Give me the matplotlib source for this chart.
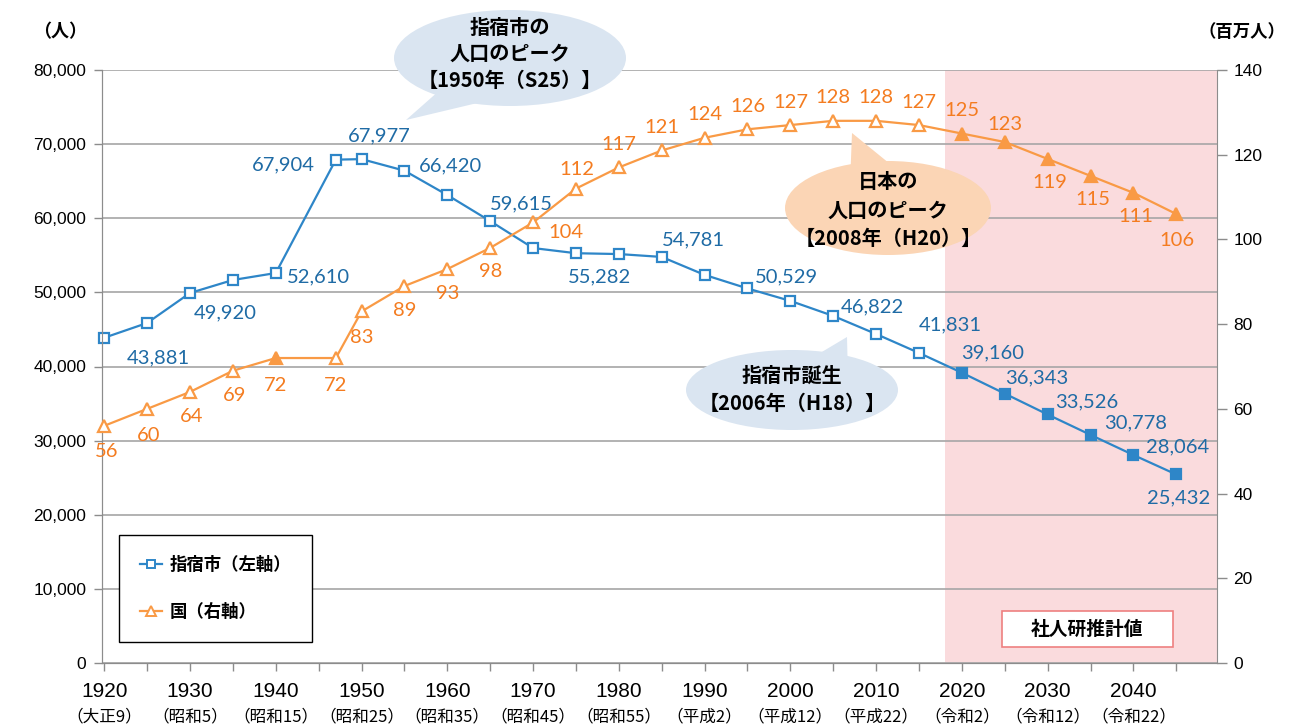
import matplotlib
matplotlib.use("Agg")
import matplotlib.pyplot as plt
from matplotlib.lines import Line2D
from matplotlib.patches import Ellipse, Polygon, Rectangle

# ---- data ----
years = [1920, 1925, 1930, 1935, 1940, 1947, 1950, 1955, 1960, 1965, 1970, 1975, 1980,
         1985, 1990, 1995, 2000, 2005, 2010, 2015, 2020, 2025, 2030, 2035, 2040, 2045]
city_pop = [43881, 45870, 49920, 51670, 52610, 67904, 67977, 66420, 63130, 59615, 55980, 55282, 55170,
            54781, 52360, 50529, 48850, 46822, 44380, 41831, 39160, 36343, 33526, 30778, 28064, 25432]
japan_pop = [56, 60, 64, 69, 72, 72, 83, 89, 93, 98, 104, 112, 117,
             121, 124, 126, 127, 128, 128, 127, 125, 123, 119, 115, 111, 106]
city_labeled = [1920, 1930, 1940, 1947, 1950, 1955, 1965, 1975, 1985, 1995, 2005, 2015,
                2020, 2025, 2030, 2035, 2040, 2045]
projection_start = 2020
axis_years = [1920, 1930, 1940, 1950, 1960, 1970, 1980, 1990, 2000, 2010, 2020, 2030, 2040]
era_labels = ["（大正9）", "（昭和5）", "（昭和15）", "（昭和25）", "（昭和35）", "（昭和45）", "（昭和55）",
              "（平成2）", "（平成12）", "（平成22）", "（令和2）", "（令和12）", "（令和22）"]

# ---- label offsets (pixels, x right / y up) ----
city_offsets = {1920: (54, -20), 1930: (35, -20), 1940: (43, -4), 1947: (-52, -5), 1950: (18, 23),
                1955: (46, 5), 1965: (31, 17), 1975: (24, -24), 1985: (32, 17), 1995: (39, 12),
                2005: (39, 9), 2015: (31, 28), 2020: (31, 20), 2025: (32, 16), 2030: (39, 13),
                2035: (45, 12), 2040: (44, 8), 2045: (2, -23)}
japan_offsets = {1920: (2, -26), 1925: (1, -27), 1930: (2, -25), 1935: (2, -25), 1940: (0, -27),
                 1947: (0, -27), 1950: (0, -26), 1955: (0, -24), 1960: (0, -24), 1965: (0, -24),
                 1970: (33, -10), 1975: (1, 19), 2030: (2, -24), 2035: (2, -24), 2040: (2, -24),
                 2045: (1, -26), 2025: (0, 18)}

BLUE = "#2E86C8"
BLUE_TXT = "#1F6BA5"
ORANGE = "#F99A45"
ORANGE_TXT = "#F47C20"
GRID = "#A6A6A6"
CJK = ["Noto Sans CJK JP", "DejaVu Sans"]
NUM = ["Lato", "DejaVu Sans"]

W, H = 1292, 725
fig = plt.figure(figsize=(W / 100, H / 100), dpi=100)
ax = fig.add_axes([101.7 / W, 1 - 663 / H, (1216.6 - 101.7) / W, (663 - 70) / H])
ax2 = ax.twinx()

ax.set_xlim(1919.7, 2049.7)
ax.set_ylim(0, 80000)
ax2.set_ylim(0, 140)

ax.axvspan(2018, 2049.7, color="#FADBDD", zorder=0, lw=0)
ax.set_axisbelow(True)
ax.yaxis.grid(True, color=GRID, lw=1.2)

# city line (left axis)
ax.plot(years, city_pop, color=BLUE, lw=1.6, zorder=3)
for y, v in zip(years, city_pop):
    filled = y >= projection_start
    ax.plot(y, v, marker="s", ms=7, mew=1.6, mec=BLUE,
            mfc=BLUE if filled else "white", zorder=4, clip_on=False)
    if y in city_labeled:
        dx, dy = city_offsets[y]
        ax.annotate(f"{v:,}", (y, v), xytext=(dx, dy), textcoords="offset pixels",
                    ha="center", va="center", color=BLUE_TXT, fontsize=14.5, family=NUM, zorder=5)

# Japan line (right axis)
ax2.plot(years, japan_pop, color=ORANGE, lw=1.6, zorder=3)
for y, v in zip(years, japan_pop):
    filled = y >= projection_start or y == 1940
    ax2.plot(y, v, marker="^", ms=9, mew=1.6, mec=ORANGE,
             mfc=ORANGE if filled else "white", zorder=4, clip_on=False)
    dx, dy = japan_offsets.get(y, (0, 23))
    ax2.annotate(f"{v}", (y, v), xytext=(dx, dy), textcoords="offset pixels",
                 ha="center", va="center", color=ORANGE_TXT, fontsize=14.5, family=NUM, zorder=5)

# axes styling
ax.set_yticks(range(0, 80001, 10000))
ax.set_yticklabels([f"{v:,}" for v in range(0, 80001, 10000)], fontsize=12.5,
                   family=["Liberation Sans"])
ax2.set_yticks(range(0, 141, 20))
ax2.set_yticklabels([str(v) for v in range(0, 141, 20)], fontsize=12.5, family=["Liberation Sans"])
ax.set_xticks(range(1920, 2050, 5))
ax.set_xticklabels([str(y) if y in axis_years else "" for y in range(1920, 2050, 5)],
                   fontsize=15, family=["Liberation Sans"])
ax.tick_params(axis="x", length=6, width=1, color="#8C8C8C", pad=8)
ax.tick_params(axis="y", length=6, width=1, color="#8C8C8C", pad=5)
ax2.tick_params(axis="y", length=7, width=1, color="#8C8C8C", pad=5)
for a in (ax, ax2):
    a.spines["top"].set_visible(False)
    for s in ("left", "right", "bottom"):
        a.spines[s].set_color("#8C8C8C")
ax.spines["right"].set_visible(False)

trans = ax.get_xaxis_transform()
for y, era in zip(axis_years, era_labels):
    ax.text(y, -54 / 593, era, transform=trans, ha="center", va="center",
            fontsize=12, family=CJK)

# units
fig.text(60 / W, 1 - 32 / H, "（人）", ha="center", va="center", fontsize=13,
         fontweight="bold", family=CJK)
fig.text(1242 / W, 1 - 32 / H, "（百万人）", ha="center", va="center", fontsize=12.5,
         fontweight="bold", family=CJK)

# legend
handles = [Line2D([], [], color=BLUE, lw=1.6, marker="s", ms=6, mfc="white", mew=1.4),
           Line2D([], [], color=ORANGE, lw=1.6, marker="^", ms=7, mfc="white", mew=1.4)]
leg = ax2.legend(handles, ["指宿市（左軸）", "国（右軸）"], loc="upper left",
                 bbox_to_anchor=((119 - 101.7) / 1115, (663 - 535) / 593),
                 prop={"family": CJK, "weight": "bold", "size": 12.5},
                 frameon=True, fancybox=False, edgecolor="black", framealpha=1,
                 borderpad=1.2, labelspacing=1.7, handlelength=1.3, handletextpad=0.4,
                 borderaxespad=0)
leg.get_frame().set_linewidth(1.0)


def px(x, y):
    return (x / W, 1 - y / H)


def callout(center, size, tail, color, lines, ys, fs=14.5):
    fig.add_artist(Polygon([px(*p) for p in tail], closed=True, transform=fig.transFigure,
                           facecolor=color, edgecolor="none", zorder=10))
    fig.add_artist(Ellipse(px(*center), size[0] / W, size[1] / H, transform=fig.transFigure,
                           facecolor=color, edgecolor="none", zorder=10))
    for s, yy in zip(lines, ys):
        fig.text(*px(center[0], yy), s, ha="center", va="center", fontsize=fs,
                 fontweight="bold", family=CJK, zorder=11)


callout((510, 58), (232, 96), [(406, 120), (440, 90), (490, 100)], "#DAE5F1",
        ["指宿市の", "人口のピーク", "【1950年（S25）】"], [27, 53, 80])
callout((888, 208), (206, 94), [(852, 133), (850, 185), (895, 168)], "#FBD5B5",
        ["日本の", "人口のピーク", "【2008年（H20）】"], [181, 210, 238])
callout((792, 390), (212, 80), [(847, 337), (805, 362), (848, 378)], "#DAE5F1",
        ["指宿市誕生", "【2006年（H18）】"], [375, 403])

# projection box
fig.add_artist(Rectangle(px(1002, 647), 171 / W, 36 / H, transform=fig.transFigure,
                         facecolor="white", edgecolor="#EE8080", lw=1.2, zorder=10))
fig.text(*px(1087, 629), "社人研推計値", ha="center", va="center", fontsize=13.5,
         fontweight="bold", family=CJK, zorder=11)

fig.savefig("out.png", dpi=100)
